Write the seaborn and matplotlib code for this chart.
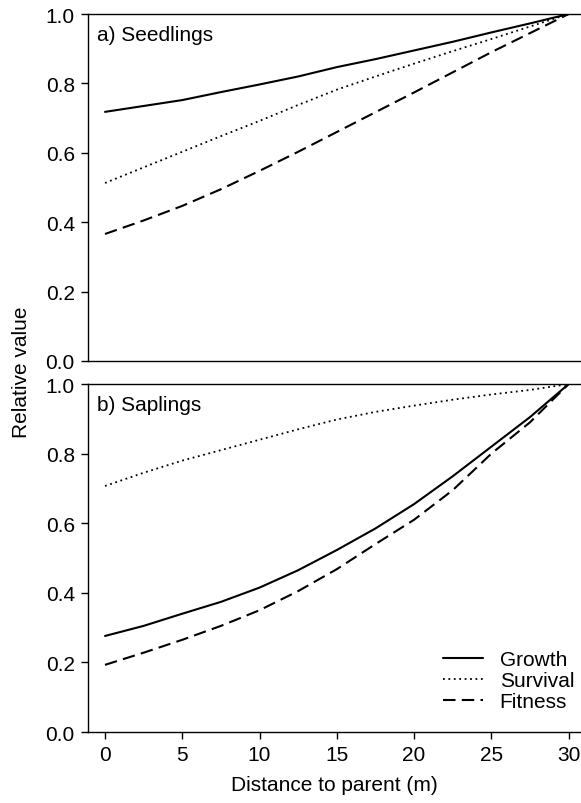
import matplotlib
matplotlib.use("Agg")
import matplotlib.pyplot as plt
import seaborn as sns
from matplotlib.ticker import FormatStrFormatter

# distance to parent (m)
distance = [0, 2.5, 5, 7.5, 10, 12.5, 15, 17.5, 20, 22.5, 25, 27.5, 30]

# a) seedlings
seedling_growth = [0.718, 0.735, 0.752, 0.775, 0.797, 0.820, 0.847, 0.870, 0.895, 0.920, 0.947, 0.973, 1.0]
seedling_survival = [0.513, 0.558, 0.603, 0.648, 0.692, 0.738, 0.782, 0.820, 0.857, 0.893, 0.928, 0.964, 1.0]
seedling_fitness = [0.366, 0.405, 0.447, 0.495, 0.548, 0.603, 0.660, 0.717, 0.774, 0.832, 0.890, 0.945, 1.0]

# b) saplings
sapling_growth = [0.276, 0.305, 0.340, 0.374, 0.415, 0.465, 0.523, 0.585, 0.655, 0.735, 0.820, 0.905, 1.0]
sapling_survival = [0.707, 0.745, 0.780, 0.810, 0.840, 0.870, 0.898, 0.920, 0.938, 0.955, 0.970, 0.983, 1.0]
sapling_fitness = [0.193, 0.228, 0.265, 0.305, 0.350, 0.405, 0.468, 0.540, 0.610, 0.695, 0.800, 0.890, 1.0]

series_names = ["Growth", "Survival", "Fitness"]
line_styles = ["-", (0, (1, 2)), (0, (6, 3))]
line_widths = [1.5, 1.3, 1.5]

sns.set_style("ticks")
plt.rcParams["font.family"] = ["Liberation Sans", "DejaVu Sans"]
plt.rcParams["font.size"] = 15
plt.rcParams["text.color"] = "black"
plt.rcParams["axes.labelcolor"] = "black"

fig = plt.figure(figsize=(5.81, 8.04), dpi=100)
ax1 = fig.add_axes([0.1515, 0.5498, 0.8485, 0.4315])
ax2 = fig.add_axes([0.1515, 0.0883, 0.8485, 0.4328])

panels = [
    (ax1, [seedling_growth, seedling_survival, seedling_fitness], "a) Seedlings"),
    (ax2, [sapling_growth, sapling_survival, sapling_fitness], "b) Saplings"),
]

for ax, values, title in panels:
    for name, vals, ls, lw in zip(series_names, values, line_styles, line_widths):
        sns.lineplot(x=distance, y=vals, ax=ax, color="black", linestyle=ls,
                     linewidth=lw, label=name, legend=False)
    ax.set_xlim(-1.1, 30.8)
    ax.set_ylim(0, 1.0)
    ax.set_yticks([0, 0.2, 0.4, 0.6, 0.8, 1.0])
    ax.yaxis.set_major_formatter(FormatStrFormatter("%.1f"))
    ax.set_xticks([0, 5, 10, 15, 20, 25, 30])
    ax.spines["right"].set_visible(False)
    for s in ["left", "bottom", "top"]:
        ax.spines[s].set_linewidth(1.0)
        ax.spines[s].set_color("black")
    ax.tick_params(axis="both", direction="out", length=5, width=1,
                   labelsize=15, pad=4.5, colors="black")
    ax.set_ylabel("")
    ax.text(0.018, 0.942, title, transform=ax.transAxes, ha="left",
            va="center", fontsize=15)

ax1.tick_params(axis="x", bottom=False, labelbottom=False)
ax2.set_xlabel("Distance to parent (m)", fontsize=15, labelpad=8)

handles, labels = ax2.get_legend_handles_labels()
ax2.legend(handles, labels, loc="lower right", bbox_to_anchor=(0.986, 0.06),
           frameon=False, fontsize=15, handlelength=1.9, handletextpad=0.8,
           labelspacing=0.1, borderpad=0, borderaxespad=0)

fig.text(22 / 581, 0.537, "Relative value", rotation=90, ha="center",
         va="center", fontsize=15)

fig.savefig("out.png", dpi=100)
